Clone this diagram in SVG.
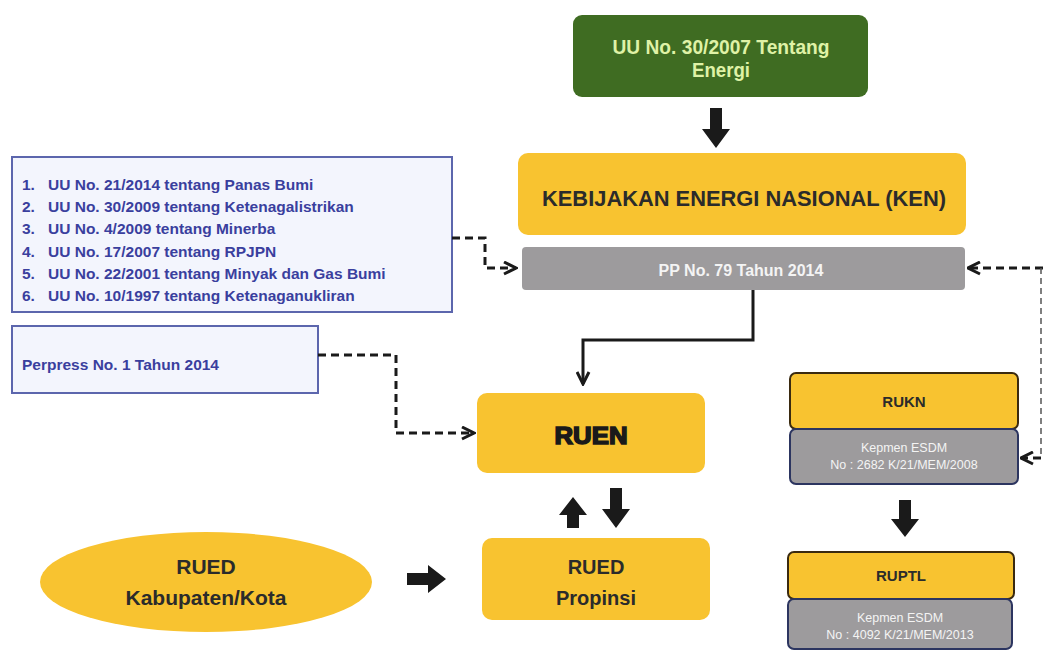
<svg xmlns="http://www.w3.org/2000/svg" width="1043" height="650" viewBox="0 0 1043 650">
<defs>
<style>
text{font-family:"Liberation Sans",Arial,sans-serif;font-weight:bold;}
.yel{fill:#f8c330;}
.gray{fill:#9d9b9d;}
.blue{fill:#f3f5fd;stroke:#5c66ad;stroke-width:2;}
.bt{fill:#3a3f9e;font-size:15.5px;}
.dash{fill:none;stroke:#1a1a1a;stroke-width:3;stroke-dasharray:8 5;}
.solid{fill:none;stroke:#1a1a1a;stroke-width:3;}
.blk{fill:#1a1a1a;}
.dk{fill:#2b2b2b;}
.wt{fill:#f4f4f4;}
.sm{font-size:12.5px;font-weight:normal;}
</style>
<marker id="open" viewBox="0 0 10 10" refX="9" refY="5" markerWidth="5" markerHeight="5" orient="auto">
<path d="M1 1 L9 5 L1 9" fill="none" stroke="#1a1a1a" stroke-width="2"/>
</marker>
</defs>
<rect width="1043" height="650" fill="#ffffff"/>

<g id="uu-energi">
<rect x="573" y="15" width="295" height="82" rx="9" fill="#3f6c22"/>
<text x="721" y="54" text-anchor="middle" font-size="20" fill="#dff2a6" textLength="217" lengthAdjust="spacingAndGlyphs">UU No. 30/2007 Tentang</text>
<text x="721" y="77" text-anchor="middle" font-size="20" fill="#dff2a6" textLength="58" lengthAdjust="spacingAndGlyphs">Energi</text>
</g>

<g id="ken">
<rect class="yel" x="518" y="153" width="448" height="82" rx="10"/>
<text class="dk" x="744" y="206" text-anchor="middle" font-size="22" textLength="404" lengthAdjust="spacingAndGlyphs">KEBIJAKAN ENERGI NASIONAL (KEN)</text>
</g>

<g id="pp79">
<rect class="gray" x="522" y="247" width="443" height="43" rx="4"/>
<text class="wt" x="741" y="276" text-anchor="middle" font-size="16">PP No. 79 Tahun 2014</text>
</g>

<g id="uu-list">
<rect class="blue" x="12" y="157" width="440" height="155"/>
<text class="bt" x="22" y="190">1.</text><text class="bt" x="48" y="190">UU No. 21/2014 tentang Panas Bumi</text>
<text class="bt" x="22" y="212">2.</text><text class="bt" x="48" y="212">UU No. 30/2009 tentang Ketenagalistrikan</text>
<text class="bt" x="22" y="234">3.</text><text class="bt" x="48" y="234">UU No. 4/2009 tentang Minerba</text>
<text class="bt" x="22" y="257">4.</text><text class="bt" x="48" y="257">UU No. 17/2007 tentang RPJPN</text>
<text class="bt" x="22" y="279">5.</text><text class="bt" x="48" y="279">UU No. 22/2001 tentang Minyak dan Gas Bumi</text>
<text class="bt" x="22" y="301">6.</text><text class="bt" x="48" y="301">UU No. 10/1997 tentang Ketenaganukliran</text>
</g>

<g id="perpress">
<rect class="blue" x="12" y="326" width="306" height="67"/>
<text class="bt" x="22" y="370">Perpress No. 1 Tahun 2014</text>
</g>

<g id="ruen">
<rect class="yel" x="477" y="393" width="228" height="80" rx="10"/>
<text x="591" y="444" text-anchor="middle" font-size="23" fill="#1a1a1a" stroke="#1a1a1a" stroke-width="1.5" textLength="73" lengthAdjust="spacingAndGlyphs">RUEN</text>
</g>

<g id="rued-propinsi">
<rect class="yel" x="482" y="538" width="228" height="82" rx="10"/>
<text class="dk" x="596" y="574" text-anchor="middle" font-size="20">RUED</text>
<text class="dk" x="596" y="605" text-anchor="middle" font-size="20">Propinsi</text>
</g>

<g id="rued-kab">
<ellipse class="yel" cx="206" cy="582" rx="166" ry="50"/>
<text class="dk" x="206" y="574" text-anchor="middle" font-size="21">RUED</text>
<text class="dk" x="206" y="605" text-anchor="middle" font-size="21">Kabupaten/Kota</text>
</g>

<g id="rukn">
<rect class="yel" x="790" y="373" width="228" height="56" rx="6" stroke="#3a2a10" stroke-width="2"/>
<text class="dk" x="904" y="407" text-anchor="middle" font-size="15">RUKN</text>
<rect class="gray" x="790" y="429" width="228" height="55" rx="6" stroke="#2c3560" stroke-width="2"/>
<text class="wt sm" x="904" y="452" text-anchor="middle">Kepmen ESDM</text>
<text class="wt sm" x="904" y="469" text-anchor="middle">No : 2682 K/21/MEM/2008</text>
</g>

<g id="ruptl">
<rect class="yel" x="788" y="552" width="226" height="47" rx="6" stroke="#3a2a10" stroke-width="2"/>
<text class="dk" x="901" y="581" text-anchor="middle" font-size="15">RUPTL</text>
<rect class="gray" x="788" y="599" width="224" height="50" rx="6" stroke="#2c3560" stroke-width="2"/>
<text class="wt sm" x="900" y="622" text-anchor="middle">Kepmen ESDM</text>
<text class="wt sm" x="900" y="639" text-anchor="middle">No : 4092 K/21/MEM/2013</text>
</g>

<g id="connectors">
<polygon class="blk" points="710,108 722,108 722,129 730,129 716,148 702,129 710,129"/>
<polygon class="blk" points="610,488 622,488 622,509 630,509 616,528 602,509 610,509"/>
<polygon class="blk" points="567,528 579,528 579,515 587,515 573,497 559,515 567,515"/>
<polygon class="blk" points="407,573 428,573 428,565 446,579 428,593 428,585 407,585"/>
<polygon class="blk" points="899,500 911,500 911,519 919,519 905,537 891,519 899,519"/>
<path class="solid" d="M753 290 V340 H583 V384" marker-end="url(#open)"/>
<path class="dash" d="M452 238 H485 V268 H516" marker-end="url(#open)"/>
<path class="dash" d="M318 355 H396 V433 H474" marker-end="url(#open)"/>
<path class="dash" d="M1043 268 H968" marker-end="url(#open)" stroke-width="2.5"/>
<path d="M1041 268 V458" fill="none" stroke="#555" stroke-width="1.5" stroke-dasharray="6 4"/>
<path class="dash" d="M1041 458 H1021" marker-end="url(#open)" stroke-width="2.5"/>
</g>
</svg>
